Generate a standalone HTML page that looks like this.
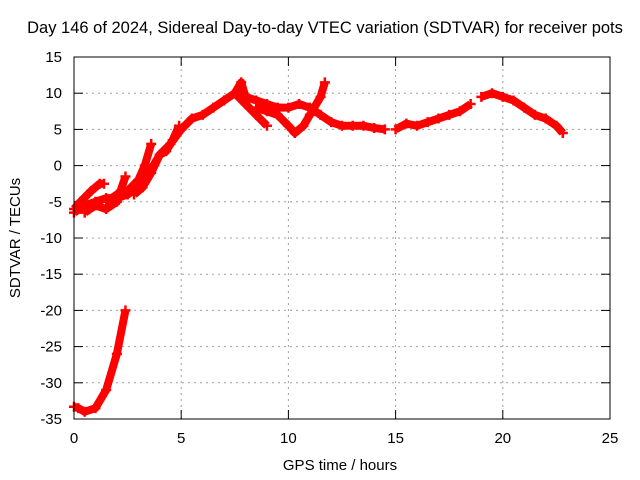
<!DOCTYPE html>
<html><head><meta charset="utf-8"><style>
body{margin:0;background:#fff}
svg{display:block;font-family:"Liberation Sans",sans-serif}
</style></head><body>
<svg id="c" width="640" height="480">
<text x="325" y="33" font-size="16.5" text-anchor="middle">Day 146 of 2024, Sidereal Day-to-day VTEC variation (SDTVAR) for receiver pots</text>
<text x="340" y="470" font-size="15" text-anchor="middle">GPS time / hours</text>
<text transform="translate(20,238) rotate(-90)" font-size="15" text-anchor="middle">SDTVAR / TECUs</text>
<g id="grid"></g><g id="marks"></g>
<rect x="74" y="57" width="536" height="362" fill="none" stroke="#000" stroke-width="1"/>
</svg>
<script>
const xTicks=[0,5,10,15,20,25];
const yTicks=[15,10,5,0,-5,-10,-15,-20,-25,-30,-35];
const s1=[[0,-6.5],[0.5,-5.5],[1,-5],[1.5,-4.5],[2,-4.5],[2.5,-4],[3,-3],[3.5,-1],[4,1.5],[4.5,3],[5,5],[5.5,6.5],[6,7],[6.5,8],[7,9],[7.5,10],[7.8,11.5],[8,9.5],[8.5,9],[9,8.5],[9.5,8],[10,8],[10.5,8.5],[11,8],[11.5,7],[12,6],[12.5,5.5],[13,5.5],[13.5,5.5],[14,5.2],[14.5,5]];
const s2=[[7.5,10],[8,8.5],[8.5,7],[9,5.5]];
const s3=[[8.5,8],[9,7.5],[9.5,7],[10,5.5],[10.3,4.5],[10.7,5.5],[11,7],[11.5,9.5],[11.7,11.5]];
const s4=[[15,5],[15.5,5.8],[16,5.5],[16.5,6],[17,6.5],[17.5,7],[18,7.5],[18.5,8.5]];
const s5=[[19,9.5],[19.5,10],[20,9.5],[20.5,9],[21,8],[21.5,7],[22,6.5],[22.5,5.5],[22.8,4.5]];
const s6=[[0,-6],[0.3,-5],[0.8,-3.5],[1.2,-2.5],[1.4,-2.5]];
const s7=[[0.5,-6.5],[1,-5.5],[1.5,-6],[2,-5],[2.4,-1.5]];
const s8=[[1.5,-5],[2,-4],[2.5,-3.5],[3,-2],[3.3,0],[3.6,3]];
const s9=[[2.8,-4],[3.2,-3],[3.6,-1],[4,1.5],[4.3,2],[4.6,3.5],[4.9,5.5]];
const s10=[[0,-33.3],[0.2,-33.5],[0.5,-34],[1,-33.5],[1.5,-31],[2,-26],[2.4,-20]];
const series=[s1,s2,s3,s4,s5,s6,s7,s8,s9,s10];
const X=v=>74+v*(536/25), Y=v=>57+(15-v)*(362/50);
const NS='http://www.w3.org/2000/svg';
const g=document.getElementById('grid'), m=document.getElementById('marks');
function mk(t,a,p){const e=document.createElementNS(NS,t);for(const k in a)e.setAttribute(k,a[k]);p.appendChild(e);return e;}
xTicks.forEach(t=>{const x=X(t);
 if(t>0&&t<25){const l=mk('line',{x1:x,x2:x,y1:57,y2:419,stroke:'#a0a0a0','stroke-dasharray':'2,4'},g);}
 mk('line',{x1:x,x2:x,y1:419,y2:410,stroke:'#000'},g);mk('line',{x1:x,x2:x,y1:57,y2:66,stroke:'#000'},g);
 const tx=mk('text',{x:x,y:443,'font-size':15,'text-anchor':'middle'},g);tx.textContent=t;
 });
yTicks.forEach(t=>{const y=Y(t);
 if(t<15&&t>-35){const l=mk('line',{x1:74,x2:610,y1:y,y2:y,stroke:'#a0a0a0','stroke-dasharray':'2,4'},g);}
 mk('line',{x1:74,x2:83,y1:y,y2:y,stroke:'#000'},g);mk('line',{x1:601,x2:610,y1:y,y2:y,stroke:'#000'},g);
 const tx=mk('text',{x:62,y:y+5,'font-size':15,'text-anchor':'end'},g);tx.textContent=t;
 });
series.forEach((s,i)=>{
 const p=mk('polyline',{points:s.map(d=>X(d[0])+','+Y(d[1])).join(' '),fill:'none',stroke:'#f00','stroke-width':8,'stroke-linejoin':'round'},m);
 
 
 s.forEach(d=>{const x=X(d[0]),y=Y(d[1]);
  const q=mk('path',{d:`M${x-5},${y}H${x+5}M${x},${y-5}V${y+5}`,stroke:'#f00','stroke-width':2.5},m);
  
  });
});
</script>
</body></html>
